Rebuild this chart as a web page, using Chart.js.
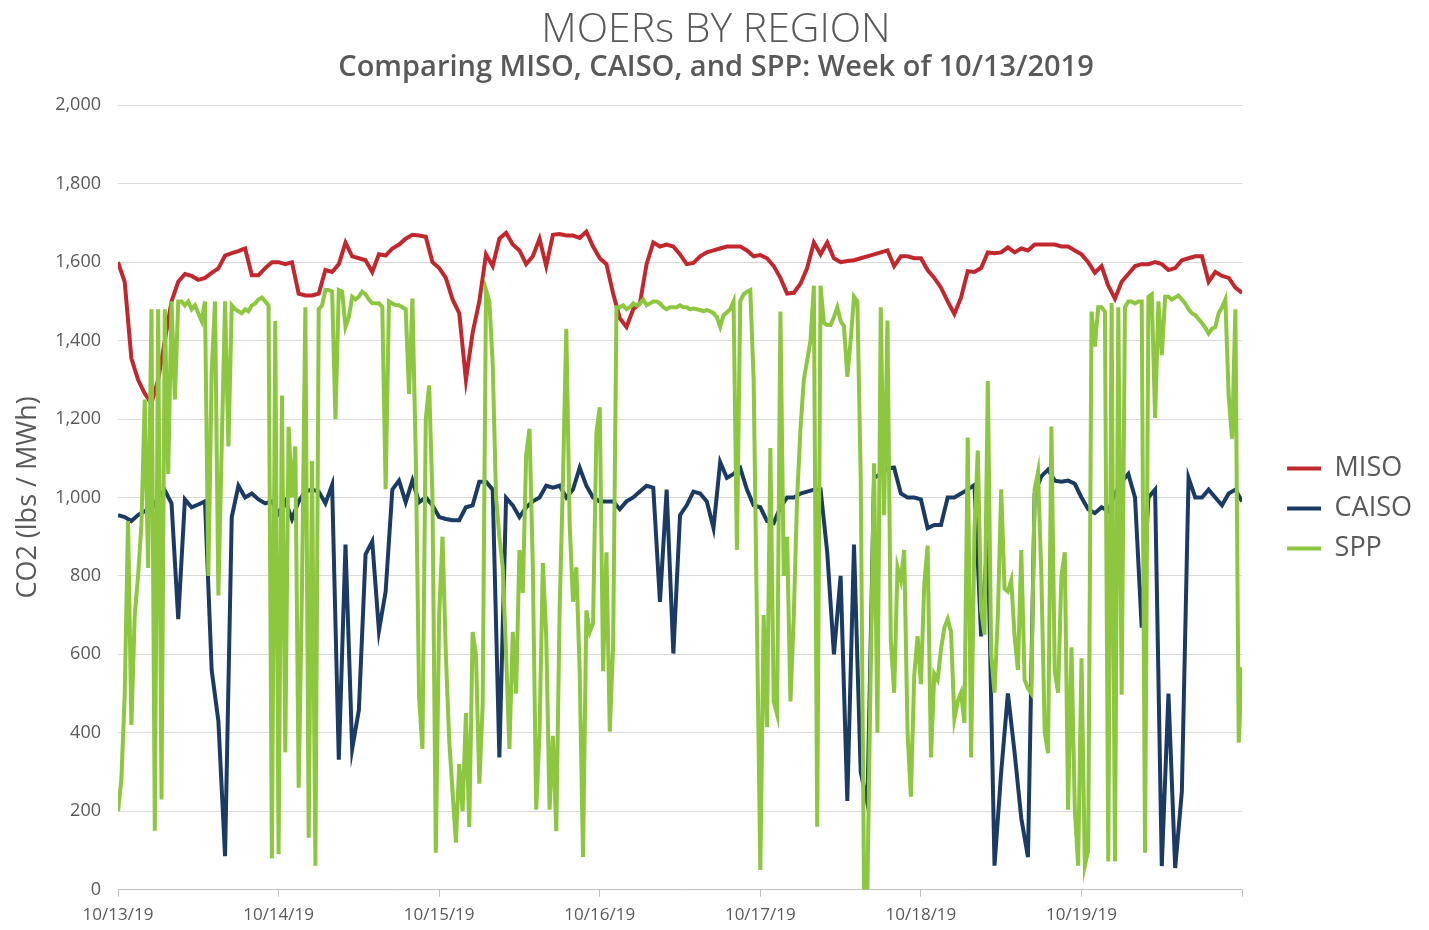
<!DOCTYPE html>
<html>
<head>
<meta charset="utf-8">
<title>MOERs by region</title>
<script src="https://cdn.jsdelivr.net/npm/chart.js@4.4.1/dist/chart.umd.min.js"></script>
<style>
  html, body { margin: 0; padding: 0; background: #fff; }
  #wrap { width: 1429px; height: 930px; }
</style>
</head>
<body>
<div id="wrap"><canvas id="moerChart"></canvas></div>
<script>
// day labels at every 24 hours
const dayLabels = ['10/13/19', '10/14/19', '10/15/19', '10/16/19', '10/17/19', '10/18/19', '10/19/19'];

// MISO, one value per hour (lbs/MWh)
const misoHourly = [
  1600, 1550, 1355, 1300, 1265, 1240, 1300, 1400, 1500, 1550,
  1570, 1565, 1555, 1560, 1573, 1584, 1617, 1623, 1628, 1635,
  1567, 1567, 1585, 1600, 1600, 1595, 1600, 1520, 1515, 1515,
  1520, 1580, 1575, 1595, 1650, 1615, 1610, 1605, 1575, 1620,
  1617, 1635, 1645, 1660, 1670, 1668, 1665, 1600, 1585, 1560,
  1505, 1470, 1300, 1420, 1500, 1620, 1590, 1660, 1675, 1645,
  1630, 1595, 1615, 1660, 1590, 1670, 1672, 1668, 1668, 1662,
  1678, 1640, 1610, 1595, 1520, 1457, 1435, 1480, 1495, 1595,
  1650, 1640, 1645, 1640, 1620, 1595, 1598, 1615, 1625, 1630,
  1635, 1640, 1640, 1640, 1630, 1615, 1618, 1610, 1590, 1560,
  1520, 1522, 1545, 1585, 1650, 1620, 1650, 1610, 1600, 1603,
  1605, 1610, 1615, 1620, 1625, 1630, 1590, 1615, 1615, 1610,
  1610, 1580, 1560, 1535, 1500, 1468, 1510, 1577, 1575, 1585,
  1625, 1623, 1625, 1638, 1625, 1635, 1630, 1645, 1645, 1645,
  1645, 1640, 1640, 1630, 1620, 1600, 1573, 1590, 1540, 1507,
  1550, 1570, 1590, 1595, 1595, 1600, 1595, 1580, 1585, 1605,
  1610, 1615, 1615, 1550, 1575, 1565, 1560, 1535, 1522
];

// CAISO, one value per hour
const caisoHourly = [
  955, 950, 940, 955, 965, 970, 1000, 1018, 985, 690,
  995, 975, 982, 990, 560, 430, 85, 950, 1030, 1000,
  1010, 995, 985, 990, 960, 990, 945, 990, 1015, 1020,
  1015, 985, 1032, 331, 880, 359, 458, 855, 888, 660,
  760, 1020, 1043, 988, 1043, 988, 1000, 980, 950, 945,
  942, 942, 975, 980, 1040, 1040, 1020, 337, 999, 980,
  950, 975, 990, 1000, 1030, 1025, 1030, 1000, 1020, 1076,
  1030, 1000, 990, 990, 990, 970, 990, 1000, 1015, 1030,
  1025, 734, 1020, 602, 955, 980, 1015, 1010, 990, 922,
  1090, 1050, 1060, 1075, 1020, 980, 975, 940, 935, 975,
  1000, 1000, 1010, 1015, 1020, 1021, 860, 600, 800, 226,
  880, 300, 220, 1050, 1060, 1075, 1076, 1010, 1000, 1000,
  995, 922, 930, 930, 1000, 1000, 1010, 1020, 1032, 646,
  900, 61, 300, 500, 350, 182, 83, 1010, 1054, 1071,
  1043, 1040, 1043, 1035, 1000, 970, 960, 975, 965, 1010,
  1040, 1060, 1000, 668, 1000, 1020, 60, 500, 55, 250,
  1050, 1000, 1000, 1020, 1000, 980, 1010, 1020, 990
];

// SPP, one value per half hour
const sppHalfHourly = [
  200, 280, 495, 940, 420, 700, 800, 930, 1250, 820,
  1480, 150, 1480, 230, 1480, 1060, 1500, 1250, 1500, 1500,
  1490, 1500, 1480, 1490, 1470, 1450, 1500, 800, 1320, 1500,
  750, 1130, 1500, 1130, 1490, 1480, 1475, 1470, 1480, 1475,
  1490, 1495, 1505, 1510, 1500, 1490, 80, 1450, 90, 1260,
  350, 1180, 1000, 1130, 260, 770, 1485, 132, 1093, 61,
  1480, 1490, 1529, 1529, 1525, 1200, 1529, 1525, 1435, 1460,
  1512, 1505, 1512, 1525, 1518, 1505, 1495, 1495, 1495, 1485,
  1021, 1500, 1495, 1490, 1490, 1485, 1480, 1264, 1507, 1109,
  491, 359, 1200, 1286, 1000, 94, 700, 900, 600, 381,
  250, 120, 320, 200, 450, 160, 657, 600, 270, 469,
  1529, 1500, 1341, 1000, 900, 822, 602, 359, 657, 500,
  866, 756, 1109, 1175, 822, 204, 400, 833, 646, 204,
  392, 149, 712, 1043, 1430, 933, 734, 822, 557, 83,
  712, 657, 679, 1165, 1230, 557, 860, 403, 624, 1485,
  1485, 1490, 1480, 1485, 1495, 1490, 1495, 1505, 1490, 1495,
  1500, 1500, 1495, 1485, 1480, 1485, 1485, 1485, 1490, 1485,
  1485, 1480, 1482, 1480, 1478, 1475, 1478, 1475, 1470, 1460,
  1435, 1465, 1472, 1480, 1500, 866, 1501, 1518, 1525, 1529,
  1300, 673, 50, 700, 414, 1126, 480, 447, 1474, 800,
  900, 480, 700, 1000, 1175, 1300, 1350, 1400, 1540, 160,
  1540, 1445, 1440, 1440, 1460, 1485, 1450, 1437, 1308, 1400,
  1512, 1500, 1054, 0, 0, 568, 1087, 400, 1485, 955,
  1451, 635, 502, 822, 789, 866, 403, 237, 546, 646,
  524, 778, 877, 337, 550, 535, 613, 668, 690, 657,
  436, 480, 502, 425, 1153, 337, 911, 1120, 712, 650,
  1297, 600, 502, 700, 1021, 767, 760, 789, 646, 560,
  866, 535, 513, 500, 1021, 1065, 800, 403, 348, 1181,
  557, 502, 800, 860, 204, 618, 204, 61, 590, 61,
  100, 1474, 1385, 1485, 1485, 1474, 72, 1496, 72, 1485,
  497, 1485, 1500, 1500, 1495, 1500, 1500, 94, 1512, 1518,
  1203, 1500, 1363, 1512, 1512, 1505, 1510, 1515, 1505, 1495,
  1480, 1470, 1465, 1455, 1445, 1433, 1418, 1430, 1435, 1470,
  1485, 1505, 1258, 1150, 1480, 375, 568
];

const textGrey = '#595959';
const fontFamily = "'Open Sans', 'Noto Sans', sans-serif";

// x is hours since 10/13/19 00:00
function toPoints(values, stepHours) {
    return values.map((v, i) => ({ x: i * stepHours, y: v }));
}

new Chart(document.getElementById('moerChart'), {
    type: 'line',
    data: {
        datasets: [
            {
                label: 'MISO',
                data: toPoints(misoHourly, 1),
                borderColor: '#c1272d',
                backgroundColor: '#c1272d',
                borderWidth: 4,
                order: 3
            },
            {
                label: 'CAISO',
                data: toPoints(caisoHourly, 1),
                borderColor: '#1b3a64',
                backgroundColor: '#1b3a64',
                borderWidth: 4,
                order: 2
            },
            {
                label: 'SPP',
                data: toPoints(sppHalfHourly, 0.5),
                borderColor: '#8dc63f',
                backgroundColor: '#8dc63f',
                borderWidth: 4,
                order: 1
            }
        ]
    },
    options: {
        responsive: true,
        maintainAspectRatio: false,
        animation: false,
        elements: {
            point: { radius: 0 },
            line: { tension: 0 }
        },
        layout: { padding: { left: 10, right: 7, top: 0, bottom: -3 } },
        plugins: {
            title: {
                display: true,
                text: 'MOERs BY REGION',
                color: textGrey,
                font: { family: fontFamily, size: 41, weight: '300', lineHeight: 1.0 },
                padding: { top: 10, bottom: 0 }
            },
            subtitle: {
                display: true,
                text: 'Comparing MISO, CAISO, and SPP: Week of 10/13/2019',
                color: textGrey,
                font: { family: fontFamily, size: 29, weight: '600', lineHeight: 1.15 },
                padding: { top: 0, bottom: 21 }
            },
            legend: {
                position: 'right',
                align: 'center',
                title: {
                    display: true,
                    text: ' ',
                    font: { size: 10, lineHeight: 1.2 },
                    padding: { top: 6, bottom: 66 }
                },
                labels: {
                    usePointStyle: true,
                    pointStyle: 'line',
                    pointStyleWidth: 34,
                    padding: 13,
                    color: textGrey,
                    font: { family: fontFamily, size: 27 },
                    sort: (a, b) => a.datasetIndex - b.datasetIndex
                }
            },
            tooltip: { enabled: false }
        },
        scales: {
            x: {
                type: 'linear',
                min: 0,
                max: 168,
                ticks: {
                    stepSize: 24,
                    autoSkip: false,
                    maxRotation: 0,
                    padding: 8,
                    color: textGrey,
                    font: { family: fontFamily, size: 17 },
                    callback: (v) => dayLabels[v / 24] || ''
                },
                grid: { drawOnChartArea: false, drawTicks: true, tickLength: 7, color: '#bfbfbf' },
                border: { display: true, color: '#bfbfbf' }
            },
            y: {
                min: 0,
                max: 2000,
                ticks: {
                    stepSize: 200,
                    padding: 17,
                    color: textGrey,
                    font: { family: fontFamily, size: 18 },
                    callback: (v) => v.toLocaleString('en-US')
                },
                grid: { color: '#d9d9d9', drawTicks: false },
                border: { display: false },
                title: {
                    display: true,
                    text: 'CO2 (lbs / MWh)',
                    color: textGrey,
                    font: { family: fontFamily, size: 27, weight: '500' },
                    padding: { top: 2, bottom: 0 }
                },
                afterFit: (scale) => { scale.width = 108; }
            },
            // empty axis that only keeps space between the plot and the legend
            legendGap: {
                position: 'right',
                ticks: { display: false },
                grid: { display: false },
                border: { display: false },
                afterFit: (scale) => { scale.width = 32; }
            }
        }
    }
});
</script>
</body>
</html>
